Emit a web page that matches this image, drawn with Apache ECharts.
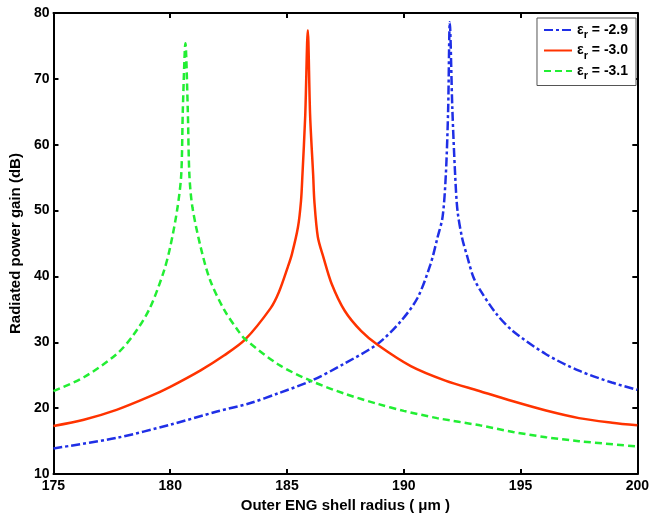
<!DOCTYPE html>
<html>
<head>
<meta charset="utf-8">
<script src="https://cdn.jsdelivr.net/npm/echarts@6/dist/echarts.min.js"></script>
<style>html,body{margin:0;padding:0;background:#fff;width:100%;height:100%;overflow:hidden;}#c{width:100vw;height:100vh;}</style>
</head>
<body>
<div id="c"></div>
<script>
// eps_r = -2.9 (blue, dash-dot)
const blueX = [175, 177.7, 180, 182, 183.4, 184.65, 186.06, 187.47, 188.89, 189.87, 190.58, 191.14, 191.45, 191.66, 191.8, 191.9, 191.97, 192.08, 192.2, 192.3, 192.5, 192.72, 192.97, 193.26, 193.97, 194.68, 196.09, 197.5, 198.91, 200];
const blueY = [13.9, 15.5, 17.5, 19.5, 20.75, 22.3, 24.2, 26.8, 29.8, 33.2, 36.7, 41.8, 46, 49, 55.4, 65.4, 78.6, 65.4, 55.4, 50, 45.8, 43.0, 40.0, 38.0, 34.3, 31.7, 28.2, 25.7, 23.9, 22.8];
// eps_r = -3.0 (red, solid)
const redX = [175, 176.3, 177.7, 179.1, 180.0, 181.3, 182.3, 183.2, 184.3, 184.65, 185.04, 185.21, 185.47, 185.6, 185.66, 185.78, 185.89, 185.99, 186.12, 186.17, 186.32, 186.56, 186.91, 187.47, 188.18, 188.89, 190.3, 191.78, 193.2, 194.68, 196.09, 197.5, 198.92, 200];
const redY = [17.3, 18.25, 19.75, 21.75, 23.25, 25.75, 28, 30.4, 35.2, 37.6, 41.5, 43.4, 47.5, 51.5, 55.4, 64.4, 77.4, 64.4, 55.4, 51.5, 46.0, 42.9, 38.9, 34.8, 31.7, 29.6, 26.4, 24.2, 22.65, 21.05, 19.65, 18.5, 17.8, 17.4];
// eps_r = -3.1 (green, dashed)
const greenX = [175, 176.3, 177.7, 178.4, 179.1, 179.7, 180.0, 180.3, 180.47, 180.54, 180.65, 180.75, 180.82, 180.95, 181.3, 181.7, 182.3, 182.9, 183.2, 184.65, 186.06, 187.47, 188.89, 190.0, 191.43, 193.26, 194.68, 196.09, 197.5, 200];
const greenY = [22.6, 24.7, 28.2, 31, 35, 40.5, 44.5, 50.2, 55.4, 65.4, 75.4, 65.4, 55.4, 50.5, 44.5, 39.5, 35, 31.8, 30.5, 26.6, 24.1, 22.2, 20.65, 19.6, 18.5, 17.4, 16.4, 15.6, 15.0, 14.2];

const seriesNames = ['-2.9', '-3.0', '-3.1'];
const xTicks = [175, 180, 185, 190, 195, 200];
const yTicks = [10, 20, 30, 40, 50, 60, 70, 80];

function zip(xs, ys) { return xs.map((x, i) => [x, ys[i]]); }

const FONT = 'Liberation Sans, Arial, sans-serif';
const chart = echarts.init(document.getElementById('c'), null, {renderer: 'canvas'});
const axisLine = {show: true, lineStyle: {color: '#000', width: 2}};
const tickIn = {show: true, inside: true, length: 5, lineStyle: {color: '#000', width: 2}};

chart.setOption({
  animation: false,
  backgroundColor: '#fff',
  grid: {left: 52, right: 10, top: 13, bottom: 41, containLabel: false},
  xAxis: [{
    type: 'value', min: xTicks[0], max: xTicks[xTicks.length - 1], interval: 5,
    position: 'bottom',
    axisLine: axisLine, axisTick: tickIn, splitLine: {show: false},
    axisLabel: {color: '#000', fontFamily: FONT, fontWeight: 'bold', fontSize: 14, margin: 5, showMaxLabel: true},
    name: 'Outer ENG shell radius ( μm )', nameLocation: 'middle', nameGap: 20,
    nameTextStyle: {color: '#000', fontFamily: FONT, fontWeight: 'bold', fontSize: 15}
  }, {
    type: 'value', min: xTicks[0], max: xTicks[xTicks.length - 1], interval: 5,
    position: 'top',
    axisLine: axisLine, axisTick: tickIn, axisLabel: {show: false}, splitLine: {show: false}
  }],
  yAxis: [{
    type: 'value', min: yTicks[0], max: yTicks[yTicks.length - 1], interval: 10,
    position: 'left',
    axisLine: axisLine, axisTick: tickIn, splitLine: {show: false},
    axisLabel: {color: '#000', fontFamily: FONT, fontWeight: 'bold', fontSize: 14, margin: 4},
    name: 'Radiated power gain (dB)', nameLocation: 'middle', nameGap: 29,
    nameTextStyle: {color: '#000', fontFamily: FONT, fontWeight: 'bold', fontSize: 15}
  }, {
    type: 'value', min: yTicks[0], max: yTicks[yTicks.length - 1], interval: 10,
    position: 'right',
    axisLine: axisLine, axisTick: tickIn, axisLabel: {show: false}, splitLine: {show: false}
  }],
  legend: {
    orient: 'vertical', right: 16, top: 18,
    backgroundColor: '#fff', borderColor: '#555', borderWidth: 1,
    padding: [5, 8, 4, 6], itemGap: 3, itemWidth: 28, itemHeight: 14,
    itemStyle: {opacity: 0},
    data: seriesNames,
    formatter: n => '{e|ε}{s|r}{t| = ' + n + '}',
    textStyle: {
      color: '#000', fontFamily: FONT, fontWeight: 'bold', fontSize: 14,
      rich: {
        e: {fontFamily: FONT, fontWeight: 'bold', fontSize: 14, color: '#000'},
        s: {fontFamily: FONT, fontWeight: 'bold', fontSize: 11, color: '#000', padding: [10, 0, 0, 0]},
        t: {fontFamily: FONT, fontWeight: 'bold', fontSize: 14, color: '#000'}
      }
    }
  },
  series: [{
    name: seriesNames[0], type: 'line', data: zip(blueX, blueY),
    showSymbol: false, symbol: 'none', smooth: 0.3,
    lineStyle: {color: '#1f2fe6', width: 2.5, type: [9, 3, 3, 3]},
    itemStyle: {color: '#1f2fe6'}
  }, {
    name: seriesNames[1], type: 'line', data: zip(redX, redY),
    showSymbol: false, symbol: 'none', smooth: 0.3,
    lineStyle: {color: '#ff3300', width: 2.5, type: 'solid'},
    itemStyle: {color: '#ff3300'}
  }, {
    name: seriesNames[2], type: 'line', data: zip(greenX, greenY),
    showSymbol: false, symbol: 'none', smooth: 0.3,
    lineStyle: {color: '#22ee33', width: 2.5, type: [7, 4]},
    itemStyle: {color: '#22ee33'}
  }]
});
</script>
</body>
</html>
